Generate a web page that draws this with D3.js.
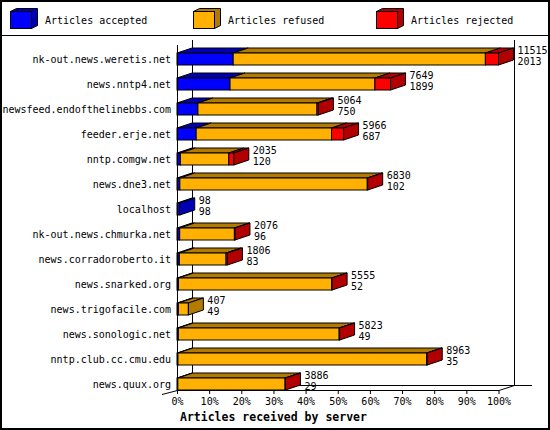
<!DOCTYPE html>
<html>
<head>
<meta charset="utf-8">
<script src="https://cdn.jsdelivr.net/npm/d3@7"></script>
<style>
  body { margin: 0; background: #fff; }
  text { font-family: "DejaVu Sans Mono", monospace; font-size: 10px; fill: #000; }
</style>
</head>
<body>
<div id="chart"></div>
<script>
const servers = ["nk-out.news.weretis.net", "news.nntp4.net", "newsfeed.endofthelinebbs.com",
  "feeder.erje.net", "nntp.comgw.net", "news.dne3.net", "localhost", "nk-out.news.chmurka.net",
  "news.corradoroberto.it", "news.snarked.org", "news.trigofacile.com", "news.sonologic.net",
  "nntp.club.cc.cmu.edu", "news.quux.org"];
const totals   = [11515, 7649, 5064, 5966, 2035, 6830, 98, 2076, 1806, 5555, 407, 5823, 8963, 3886];
const accepted = [2013, 1899, 750, 687, 120, 102, 98, 96, 83, 52, 49, 49, 35, 29];
const refused  = [9032, 5190, 4264, 4849, 1735, 6713, 0, 1960, 1673, 5488, 358, 5759, 8908, 3842];
const rejected = [470, 560, 50, 430, 180, 15, 0, 20, 50, 15, 0, 15, 20, 15];
const seriesNames = ["Articles accepted", "Articles refused", "Articles rejected"];
const percentTicks = [0, 10, 20, 30, 40, 50, 60, 70, 80, 90, 100];

const W = 550, H = 430;
const frontColors = ["#0000ff", "#ffb000", "#ff0000"];
const darkColors  = ["#0000b2", "#b27b00", "#b20000"];
const depthX = 15, depthY = 5, barH = 12;

const svg = d3.select("#chart").append("svg")
    .attr("width", W)
    .attr("height", H);

// frame + legend separator
svg.append("rect")
    .attr("x", 1).attr("y", 1).attr("width", W - 2).attr("height", H - 2)
    .attr("fill", "white").attr("stroke", "black").attr("stroke-width", 2);
svg.append("line")
    .attr("x1", 0).attr("x2", W).attr("y1", 35.5).attr("y2", 35.5)
    .attr("stroke", "black");

// ---- LEGEND ----
const legend = svg.selectAll(".legend")
    .data(seriesNames)
    .enter()
    .append("g")
    .attr("transform", (d, i) => `translate(${10 + i * 183},0)`);

legend.append("path")
    .attr("d", "M0.5,11.5 L6.5,8.5 L27.5,8.5 L27.5,25.5 L21.5,28.5 Z")
    .attr("fill", (d, i) => darkColors[i])
    .attr("stroke", "black");
legend.append("rect")
    .attr("x", 0.5).attr("y", 11.5).attr("width", 21).attr("height", 17)
    .attr("fill", (d, i) => frontColors[i])
    .attr("stroke", "black");
legend.append("text")
    .attr("x", 35).attr("y", 24)
    .text(d => d);

// ---- SCALES ----
const maxTotal = d3.max(totals);
const x = d3.scaleLinear().domain([0, 100]).range([177, 498.5]);
const pct = v => v / maxTotal * 100;
const y = d3.scalePoint().domain(servers).range([59, 384]);

// back wall / floor
const g = svg.append("g").attr("stroke", "black").attr("shape-rendering", "crispEdges");
g.append("line").attr("x1", 192.5).attr("x2", 192.5).attr("y1", 40).attr("y2", 385.5);
g.append("line").attr("x1", 514.5).attr("x2", 514.5).attr("y1", 40).attr("y2", 385.5);
g.append("line").attr("x1", 192.5).attr("x2", 532).attr("y1", 385.5).attr("y2", 385.5);

// ---- BARS ----
const rows = servers.map((s, i) => {
  const vals = [accepted[i], refused[i], rejected[i]];
  let acc = 0;
  const segs = vals.map((v, k) => {
    const seg = { k, x0: x(pct(acc)), x1: x(pct(acc + v)), v };
    acc += v;
    return seg;
  }).filter(d => d.v > 0);
  return { name: s, total: totals[i], acc: accepted[i], segs };
});

const bar = svg.selectAll(".bar")
    .data(rows)
    .enter()
    .append("g")
    .attr("transform", d => `translate(0,${y(d.name) - barH / 2})`);

// top faces
bar.selectAll(".top")
    .data(d => d.segs)
    .enter()
    .append("path")
    .attr("d", s => `M${s.x0},0 L${s.x0 + depthX},${-depthY} L${s.x1 + depthX},${-depthY} L${s.x1},0 Z`)
    .attr("fill", s => darkColors[s.k])
    .attr("stroke", "black");

// front faces
bar.selectAll(".front")
    .data(d => d.segs)
    .enter()
    .append("rect")
    .attr("x", s => s.x0)
    .attr("y", 0)
    .attr("width", s => s.x1 - s.x0)
    .attr("height", barH)
    .attr("fill", s => frontColors[s.k])
    .attr("stroke", "black");

// side face on the last segment
bar.append("path")
    .attr("d", d => {
      const e = d.segs[d.segs.length - 1].x1;
      return `M${e},0 L${e + depthX},${-depthY} L${e + depthX},${barH - depthY} L${e},${barH} Z`;
    })
    .attr("fill", d => darkColors[d.segs[d.segs.length - 1].k])
    .attr("stroke", "black");

// value labels
const lbl = bar.append("text")
    .attr("x", d => x(pct(d.total)) + depthX + 4);
lbl.append("tspan").attr("y", 1).text(d => d.total);
lbl.append("tspan").attr("x", d => x(pct(d.total)) + depthX + 4).attr("y", 12).text(d => d.acc);

// front axis + floor lines
const f = svg.append("g").attr("stroke", "black");
f.append("line").attr("x1", 177.5).attr("x2", 177.5).attr("y1", 45).attr("y2", 391)
    .attr("shape-rendering", "crispEdges");
f.append("line").attr("x1", 177).attr("x2", 499).attr("y1", 390.5).attr("y2", 390.5)
    .attr("shape-rendering", "crispEdges");
f.append("line").attr("x1", 499).attr("x2", 514.5).attr("y1", 390.5).attr("y2", 385.5);
f.append("line").attr("x1", 162).attr("x2", 177.5).attr("y1", 394.5).attr("y2", 390.5);

// ---- AXES ----
svg.append("g")
    .attr("transform", "translate(0,391)")
    .call(d3.axisBottom(x).tickValues(percentTicks).tickSize(3).tickPadding(4).tickFormat(d => d + "%"))
    .call(a => a.select(".domain").remove())
    .call(a => a.selectAll("text").style("font-family", "DejaVu Sans Mono").style("font-size", "10px"));

svg.append("g")
    .attr("transform", "translate(177,0)")
    .call(d3.axisLeft(y).tickSize(0).tickPadding(6))
    .call(a => a.select(".domain").remove())
    .call(a => a.selectAll("text").style("font-family", "DejaVu Sans Mono").style("font-size", "10px"));

// X axis label
svg.append("text")
    .attr("x", 180)
    .attr("y", 421)
    .style("font-size", "11.5px")
    .style("font-weight", "bold")
    .text("Articles received by server");
</script>
</body>
</html>
